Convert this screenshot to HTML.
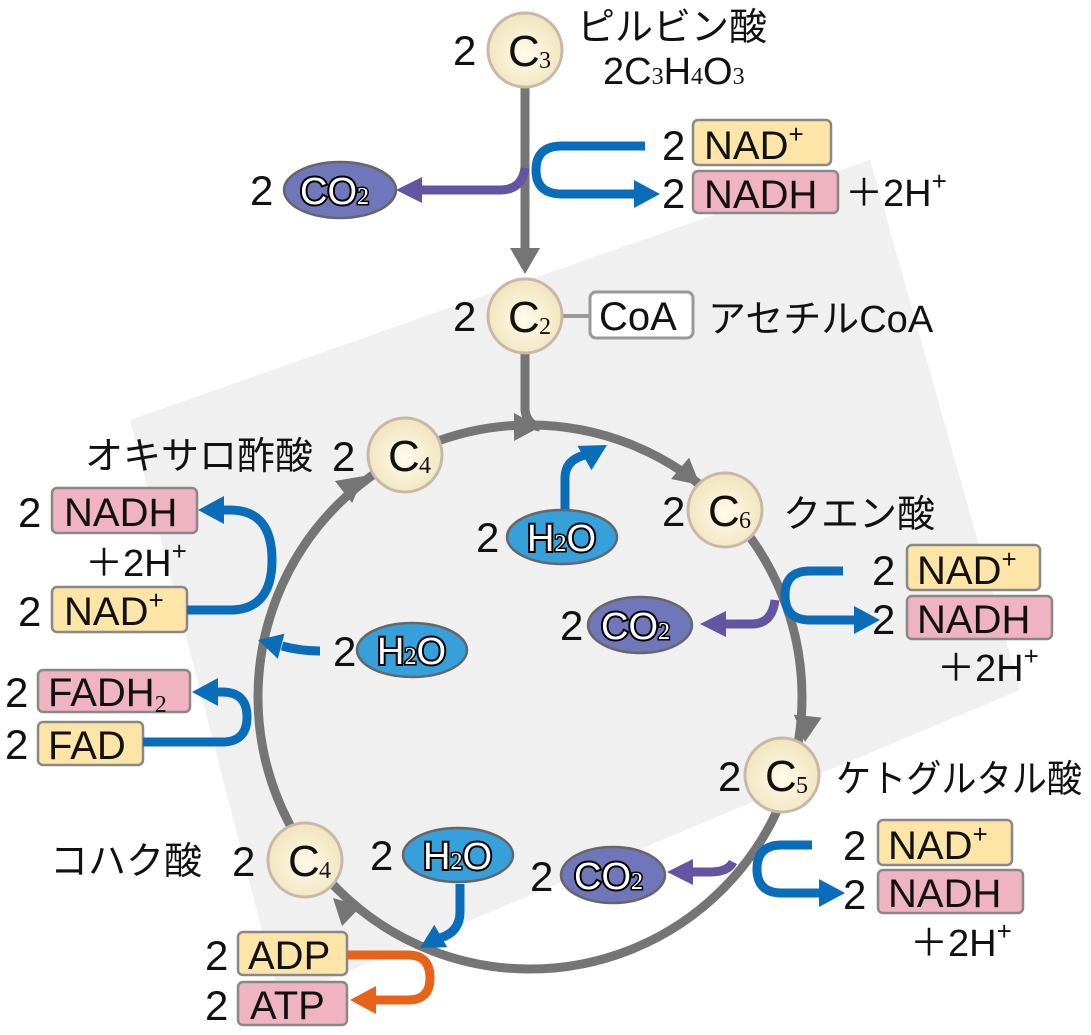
<!DOCTYPE html>
<html><head><meta charset="utf-8"><style>
html,body{margin:0;padding:0;background:#fff}
svg{display:block}
text{font-family:"Liberation Sans","Noto Sans CJK JP",sans-serif;fill:#111}
.n{font-size:42px}
.j{font-size:38px}
.b{font-size:40px}
.nd{stroke:#c9b7a8;stroke-width:3}
.cn{font-size:44px}
.sb{font-family:"Liberation Serif",serif;font-size:24px}
.w{fill:#fff;stroke:#000;stroke-width:4;paint-order:stroke;font-size:38px}
.ws{fill:#fff;stroke:#000;stroke-width:3;paint-order:stroke;font-family:"Liberation Serif",serif;font-size:24px}
.y{fill:#fce5a7;stroke:#888;stroke-width:2.5}
.p{fill:#efb3c1;stroke:#888;stroke-width:2.5}
.bl{fill:none;stroke:#0a6dba;stroke-width:9}
.pu{fill:none;stroke:#6455a2;stroke-width:9}
.sp{font-size:26px}
</style></head><body>
<svg width="1091" height="1035" viewBox="0 0 1091 1035" xmlns="http://www.w3.org/2000/svg">
<defs>
<radialGradient id="g" cx="0.5" cy="0.55" r="0.6"><stop offset="0" stop-color="#fffbea"/><stop offset="1" stop-color="#efe2b8"/></radialGradient>
</defs>
<polygon points="130,420 870,160 1020,690 280,1000" fill="#f0f0f0"/>
<circle cx="530" cy="697" r="272" fill="none" stroke="#757575" stroke-width="9"/>
<line x1="525" y1="88" x2="525" y2="255" stroke="#757575" stroke-width="9"/>
<polygon points="525,274 510,248 540,248" fill="#757575"/>
<path d="M525,350 L525,410 Q527,425 540,427" fill="none" stroke="#757575" stroke-width="9"/>
<g fill="#757575">
<polygon points="0,0 -26,-14 -26,14" transform="translate(540,427) rotate(0)"/>
<polygon points="0,0 -26,-14 -26,14" transform="translate(700,485) rotate(40)"/>
<polygon points="0,0 -26,-14 -26,14" transform="translate(805,742) rotate(96)"/>
<polygon points="0,0 -26,-14 -26,14" transform="translate(333,898) rotate(224)"/>
<polygon points="0,0 -26,-14 -26,14" transform="translate(364,476) rotate(-38)"/>
</g>
<text x="453" y="65" class="n">2</text>
<circle cx="525" cy="50" r="37" class="nd" fill="url(#g)"/>
<text x="508" y="66" class="cn">C</text><text x="539" y="68" class="sb">3</text>
<text x="577" y="40" class="j">ピルビン酸</text>
<text x="603" y="84" class="j">2C<tspan class="sb">3</tspan>H<tspan class="sb">4</tspan>O<tspan class="sb">3</tspan></text>
<path d="M525,168 Q522,190 500,190 L418,190" class="pu"/>
<polygon points="396,190 422,177 422,203" fill="#6455a2"/>
<text x="250" y="205" class="n">2</text>
<ellipse cx="340" cy="190" rx="56" ry="28" fill="#6f76b9" stroke="#666" stroke-width="2.5"/>
<text x="300" y="204" class="w">CO<tspan class="ws">2</tspan></text>
<path d="M645,146 H562 Q536,146 536,170 Q536,194 562,194 H635" class="bl"/>
<polygon points="660,194 634,180 634,208" fill="#0a6dba"/>
<text x="662" y="160" class="n">2</text>
<rect x="693" y="120" width="138" height="45" rx="5" class="y"/>
<text x="704" y="159" class="b">NAD<tspan dy="-16" class="sp">+</tspan></text>
<text x="662" y="208" class="n">2</text>
<rect x="693" y="171" width="145" height="42" rx="5" class="p"/>
<text x="704" y="208" class="b">NADH</text>
<text x="845" y="206" class="j">＋2H<tspan dy="-16" class="sp">+</tspan></text>
<text x="453" y="331" class="n">2</text>
<line x1="560" y1="316" x2="592" y2="316" stroke="#999" stroke-width="4"/>
<circle cx="525" cy="316" r="37" class="nd" fill="url(#g)"/>
<text x="508" y="332" class="cn">C</text><text x="539" y="334" class="sb">2</text>
<rect x="590" y="292" width="103" height="46" rx="6" fill="#fff" stroke="#999" stroke-width="3"/>
<text x="599" y="330" class="b">CoA</text>
<text x="708" y="332" class="j">アセチルCoA</text>
<text x="85" y="469" class="j">オキサロ酢酸</text>
<text x="332" y="471" class="n">2</text>
<circle cx="405" cy="455" r="37" class="nd" fill="url(#g)"/>
<text x="388" y="471" class="cn">C</text><text x="419" y="473" class="sb">4</text>
<path d="M565,512 V478 Q565,460 585,455" class="bl"/>
<polygon points="0,0 -26,-14 -26,14" fill="#0a6dba" transform="translate(607,445) rotate(-30)"/>
<text x="476" y="552" class="n">2</text>
<ellipse cx="562" cy="537" rx="55" ry="27" fill="#35a0da" stroke="#666" stroke-width="2.5"/>
<text x="527" y="551" class="w">H<tspan class="ws">2</tspan>O</text>
<text x="662" y="526" class="n">2</text>
<circle cx="725" cy="510" r="37" class="nd" fill="url(#g)"/>
<text x="708" y="526" class="cn">C</text><text x="739" y="528" class="sb">6</text>
<text x="783" y="527" class="j">クエン酸</text>
<path d="M843,571 H810 Q785,571 785,595 Q785,620 810,620 H855" class="bl"/>
<polygon points="880,620 854,606 854,634" fill="#0a6dba"/>
<path d="M775,600 Q772,624 752,624 L722,624" class="pu"/>
<polygon points="700,624 726,611 726,637" fill="#6455a2"/>
<text x="560" y="640" class="n">2</text>
<ellipse cx="640" cy="625" rx="52" ry="28" fill="#6f76b9" stroke="#666" stroke-width="2.5"/>
<text x="601" y="639" class="w">CO<tspan class="ws">2</tspan></text>
<text x="872" y="585" class="n">2</text>
<rect x="907" y="545" width="133" height="45" rx="5" class="y"/>
<text x="917" y="584" class="b">NAD<tspan dy="-16" class="sp">+</tspan></text>
<text x="872" y="634" class="n">2</text>
<rect x="907" y="596" width="145" height="43" rx="5" class="p"/>
<text x="917" y="633" class="b">NADH</text>
<text x="937" y="681" class="j">＋2H<tspan dy="-16" class="sp">+</tspan></text>
<text x="718" y="791" class="n">2</text>
<circle cx="782" cy="775" r="37" class="nd" fill="url(#g)"/>
<text x="765" y="791" class="cn">C</text><text x="796" y="793" class="sb">5</text>
<text x="836" y="792" class="j" textLength="246" lengthAdjust="spacingAndGlyphs">ケトグルタル酸</text>
<path d="M812,845 H782 Q757,845 757,869 Q757,893 782,893 H820" class="bl"/>
<polygon points="845,893 819,879 819,907" fill="#0a6dba"/>
<path d="M733,862 Q728,872 710,872 L690,872" class="pu"/>
<polygon points="667,872 693,859 693,885" fill="#6455a2"/>
<text x="530" y="891" class="n">2</text>
<ellipse cx="613" cy="875" rx="52" ry="28" fill="#6f76b9" stroke="#666" stroke-width="2.5"/>
<text x="574" y="889" class="w">CO<tspan class="ws">2</tspan></text>
<text x="843" y="860" class="n">2</text>
<rect x="878" y="820" width="134" height="45" rx="5" class="y"/>
<text x="888" y="859" class="b">NAD<tspan dy="-16" class="sp">+</tspan></text>
<text x="843" y="909" class="n">2</text>
<rect x="878" y="870" width="145" height="43" rx="5" class="p"/>
<text x="888" y="907" class="b">NADH</text>
<text x="910" y="956" class="j">＋2H<tspan dy="-16" class="sp">+</tspan></text>
<text x="18" y="527" class="n">2</text>
<rect x="52" y="488" width="145" height="45" rx="5" class="p"/>
<text x="64" y="526" class="b">NADH</text>
<text x="85" y="576" class="j">＋2H<tspan dy="-16" class="sp">+</tspan></text>
<text x="18" y="626" class="n">2</text>
<rect x="52" y="587" width="135" height="45" rx="5" class="y" fill="#f2dca0"/>
<text x="64" y="625" class="b">NAD<tspan dy="-16" class="sp">+</tspan></text>
<path d="M187,610 H230 Q272,610 272,560 Q272,510 230,510 H222" class="bl"/>
<polygon points="198,510 224,496 224,524" fill="#0a6dba"/>
<path d="M320,651 Q300,651 282,646" class="bl"/>
<polygon points="0,0 -24,-13 -24,13" fill="#0a6dba" transform="translate(258,640) rotate(195)"/>
<text x="333" y="666" class="n">2</text>
<ellipse cx="412" cy="650" rx="55" ry="27" fill="#35a0da" stroke="#666" stroke-width="2.5"/>
<text x="377" y="664" class="w">H<tspan class="ws">2</tspan>O</text>
<text x="5" y="707" class="n">2</text>
<rect x="38" y="670" width="152" height="42" rx="5" class="p"/>
<text x="48" y="706" class="b">FADH<tspan class="sb" dy="6">2</tspan></text>
<text x="5" y="759" class="n">2</text>
<rect x="38" y="722" width="105" height="43" rx="5" class="y"/>
<text x="48" y="759" class="b">FAD</text>
<path d="M143,742 H222 Q247,742 247,717 Q247,692 222,692 H215" class="bl"/>
<polygon points="192,692 218,678 218,706" fill="#0a6dba"/>
<text x="50" y="874" class="j">コハク酸</text>
<text x="232" y="876" class="n">2</text>
<circle cx="305" cy="860" r="37" class="nd" fill="url(#g)"/>
<text x="288" y="876" class="cn">C</text><text x="319" y="878" class="sb">4</text>
<text x="370" y="870" class="n">2</text>
<ellipse cx="458" cy="855" rx="55" ry="27" fill="#35a0da" stroke="#666" stroke-width="2.5"/>
<text x="423" y="869" class="w">H<tspan class="ws">2</tspan>O</text>
<path d="M460,884 V912 Q460,932 440,938" class="bl"/>
<polygon points="0,0 -24,-13 -24,13" fill="#0a6dba" transform="translate(420,948) rotate(150)"/>
<text x="205" y="970" class="n">2</text>
<rect x="238" y="932" width="109" height="43" rx="5" class="y"/>
<text x="248" y="969" class="b">ADP</text>
<text x="205" y="1020" class="n">2</text>
<rect x="238" y="982" width="109" height="43" rx="5" class="p"/>
<text x="250" y="1019" class="b">ATP</text>
<path d="M347,955 H408 Q430,955 430,978 Q430,1000 408,1000 H375" fill="none" stroke="#e8621a" stroke-width="9"/>
<polygon points="350,1000 376,986 376,1014" fill="#e8621a"/>
</svg>
</body></html>
